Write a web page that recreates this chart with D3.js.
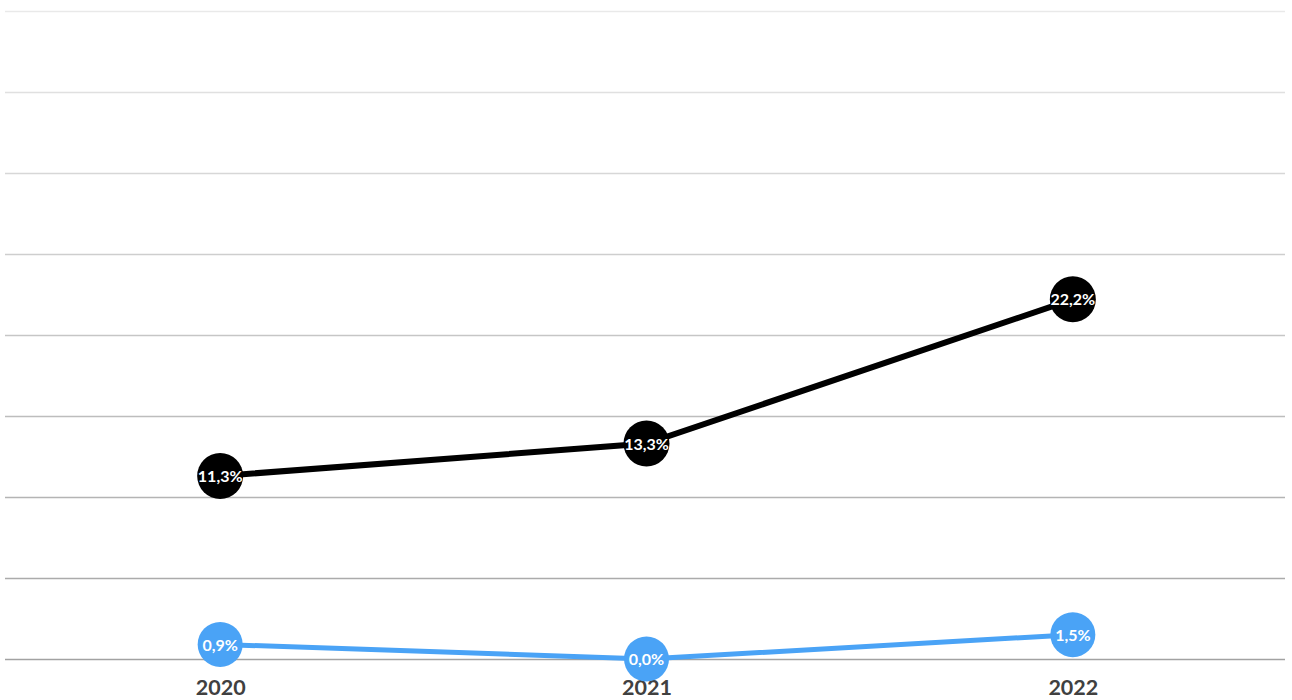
<!DOCTYPE html>
<html>
<head>
<meta charset="utf-8">
<script src="https://cdn.jsdelivr.net/npm/d3@7"></script>
<style>
  html, body { margin: 0; padding: 0; background: #fff; }
  svg { display: block; font-family: Lato, "Open Sans", "Liberation Sans", sans-serif; }
</style>
</head>
<body>
<svg id="chart" width="1292" height="700"></svg>
<script>
// Years on the x axis
const years = ["2020", "2021", "2022"];
// Upper series (black) and lower series (blue), in percent
const seriesBlack = [11.3, 13.3, 22.2];
const seriesBlue = [0.9, 0.0, 1.5];
// Gridline values, in percent
const gridValues = [0, 5, 10, 15, 20, 25, 30, 35, 40];

const svg = d3.select("#chart");
const plotLeft = 5, plotRight = 1285, plotTop = 11, plotBottom = 659;

const x = d3.scalePoint().domain(years).range([plotLeft + 2, plotRight + 1]).padding(0.5);
const y = d3.scaleLinear().domain([0, 40]).range([plotBottom, plotTop]);

// gridlines shade from light at the top to darker at the baseline
const gridColor = d3.scaleLinear().domain([40, 0]).range(["#e9e9e9", "#a2a2a2"]);

svg.append("g")
  .selectAll("line")
  .data(gridValues)
  .join("line")
  .attr("x1", plotLeft).attr("x2", plotRight)
  .attr("y1", d => Math.round(y(d)) + 0.5)
  .attr("y2", d => Math.round(y(d)) + 0.5)
  .attr("stroke", d => gridColor(d))
  .attr("stroke-width", 1.5);

// year labels
const xAxis = d3.axisBottom(x).tickSize(0).tickPadding(0);
const axisG = svg.append("g").attr("transform", `translate(0,${plotBottom + 21})`).call(xAxis);
axisG.select(".domain").remove();
axisG.selectAll("text")
  .attr("font-size", 21.5)
  .attr("font-weight", "bold")
  .attr("fill", "#404040")
  .attr("font-family", "Lato, 'Open Sans', sans-serif");

const fmt = v => v.toFixed(1).replace(".", ",") + "%";

function drawSeries(values, color, width, radius) {
  const pts = years.map((yr, i) => [x(yr), y(values[i])]);
  svg.append("path")
    .attr("d", d3.line()(pts))
    .attr("fill", "none")
    .attr("stroke", color)
    .attr("stroke-width", width);
  const g = svg.append("g").selectAll("g").data(values).join("g")
    .attr("transform", (d, i) => `translate(${x(years[i])},${y(d)})`);
  g.append("circle").attr("r", radius).attr("fill", color);
  g.append("text")
    .attr("text-anchor", "middle")
    .attr("dy", "0.38em")
    .attr("fill", "#fff")
    .attr("font-size", 16)
    .attr("font-weight", "bold")
    .text(d => fmt(d));
}

drawSeries(seriesBlue, "#4aa3f6", 5, 22.5);
drawSeries(seriesBlack, "#000000", 6, 23);
</script>
</body>
</html>
